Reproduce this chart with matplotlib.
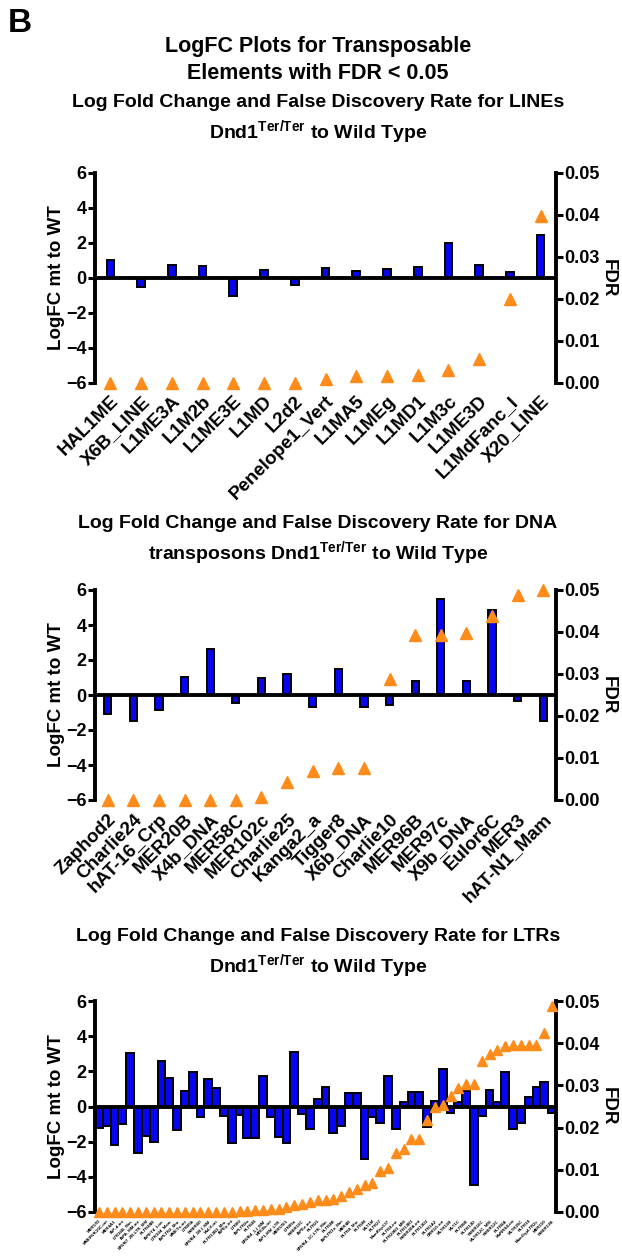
import numpy as np
import matplotlib
matplotlib.use("Agg")
import matplotlib.pyplot as plt

# 폰트 설정 (굵은 Arial 계열).
plt.rcParams['font.family'] = ['Liberation Sans', 'DejaVu Sans']
plt.rcParams['font.weight'] = 'bold'
plt.rcParams['mathtext.fontset'] = 'custom'
plt.rcParams['mathtext.rm'] = 'Liberation Sans:bold'
plt.rcParams['mathtext.it'] = 'Liberation Sans:bold'
plt.rcParams['mathtext.bf'] = 'Liberation Sans:bold'

# %%
# LINEs 데이터.
line_names = ['HAL1ME', 'X6B_LINE', 'L1ME3A', 'L1M2b', 'L1ME3E', 'L1MD', 'L2d2',
              'Penelope1_Vert', 'L1MA5', 'L1MEg', 'L1MD1', 'L1M3c', 'L1ME3D',
              'L1MdFanc_I', 'X20_LINE']
line_logfc = [1.05, -0.5, 0.72, 0.67, -1.02, 0.45, -0.38, 0.58, 0.38, 0.49, 0.6,
              2.0, 0.74, 0.36, 2.47]
line_fdr = [0, 0, 0, 0, 0, 0, 0, 0.0009, 0.0016, 0.0016, 0.002, 0.003, 0.0058,
            0.0200, 0.0397]

# DNA transposons 데이터.
dna_names = ['Zaphod2', 'Charlie24', 'hAT-16_Crp', 'MER20B', 'X4b_DNA', 'MER58C',
             'MER102c', 'Charlie25', 'Kanga2_a', 'Tigger8', 'X6b_DNA', 'Charlie10',
             'MER96B', 'MER97c', 'X9b_DNA', 'Eulor6C', 'MER3', 'hAT-N1_Mam']
dna_logfc = [-1.08, -1.46, -0.83, 1.04, 2.63, -0.45, 0.97, 1.2, -0.7, 1.48, -0.66,
             -0.55, 0.81, 5.48, 0.78, 4.88, -0.32, -1.5]
dna_fdr = [0, 0, 0, 0, 0, 0, 0.0008, 0.0042, 0.0069, 0.0076, 0.0076, 0.0289,
           0.0392, 0.0394, 0.0398, 0.0437, 0.0489, 0.0499]

# LTRs 데이터.
ltr_names = ['MER57D', 'MMERVK10C-int', 'MER4A1', 'IAP-d-int', 'LTR16B_Mm',
             'IAPA_MM-int', 'ERVB7_2B-LTR_MM', 'RLTR44B', 'IAPEY4_I-int',
             'LTR104_Mam', 'IAPLTR2_Mm', 'MMETn-int', 'LTR85b', 'RMER6D',
             'ERVB4_1B-I_MM', 'MuLV-int', 'RLTR13B2_Mm', 'IAPEy-int', 'LTR80',
             'IAPLTR2a', 'RLTR45', 'ERVB4_1-I_MM', 'MTE2b-int', 'IAP1-MM_LTR',
             'MER57E1', 'LTR85a', 'RMER19C', 'IAPEz-int', 'RLTR21',
             'ERVB4_1C-LTR_Mm', 'RLTR4B', 'IAPLTR1a_Mm', 'MER4B', 'RLTR4_Mm',
             'RLTR46', 'MLT1M', 'RLTR27', 'MamRep137', 'RLTR4-int', 'RLTR20B3_MM',
             'RLTR13B1', 'RMER20A-int', 'RLTR13D2', 'RLTR1A2', 'ORR1G-int',
             'MLTR11B', 'MLT1C', 'RLTR6B', 'RLTR13D', 'RMER16C', 'MLTR12C_MM',
             'RMER12C', 'RLTR8A', 'MuRRS4-int', 'MLTR25C', 'RLTR18',
             'MamGypLTR2c', 'MER110', 'RMER13B']
ltr_logfc = [-1.2, -1.1, -2.17, -0.97, 3.05, -2.65, -1.7, -2.0, 2.6, 1.62,
             -1.32, 0.88, 1.97, -0.58, 1.58, 1.03, -0.53, -2.1, -0.47, -1.78,
             -1.78, 1.73, -0.62, -1.75, -2.1, 3.12, -0.45, -1.3, 0.45, 1.13,
             -1.5, -1.1, 0.79, 0.79, -3.0, -0.59, -0.94, 1.74, -1.3, 0.27,
             0.82, 0.8, -1.16, 0.32, 2.13, -0.38, 0.27, 0.9, -4.45, -0.55,
             0.95, 0.27, 1.95, -1.3, -0.93, 0.55, 1.09, 1.39, -0.38]
ltr_fdr = [0, 0, 0, 0, 0, 0, 0, 0, 0, 0,
           0, 0, 0, 0, 0.0001, 0.0001, 0.0001, 0.0001, 0.0002, 0.0002,
           0.0004, 0.0004, 0.0006, 0.0008, 0.0013, 0.0017, 0.002, 0.0024, 0.0028, 0.0028,
           0.0031, 0.0037, 0.0047, 0.0055, 0.0065, 0.0069, 0.0098, 0.0104, 0.014, 0.015,
           0.0174, 0.0174, 0.0219, 0.0249, 0.0254, 0.0274, 0.0294, 0.0304, 0.0304, 0.0357,
           0.0374, 0.0385, 0.0393, 0.0396, 0.0396, 0.0396, 0.0396, 0.0424, 0.0488]

# %%
W, H = 622, 1258
BLUE = '#0505f0'
ORANGE = '#ff8c1a'

fig = plt.figure(figsize=(W / 100, H / 100), dpi=100)


def px_axes(left, top, right, bottom):
    # 픽셀 좌표로 축 위치 지정.
    return fig.add_axes([left / W, 1 - bottom / H, (right - left) / W, (bottom - top) / H])


def draw_panel(top, bottom, names, logfc, fdr, bar_w, label_size, ms, pad):
    ax = px_axes(95, top, 556, bottom)
    x = np.arange(len(names))
    ax.bar(x, logfc, width=bar_w, color=BLUE, edgecolor='black', linewidth=1.4, zorder=2)
    ax.axhline(0, color='black', lw=2.8, zorder=3)
    ax.set_xlim(-0.5, len(names) - 0.5)
    ax.set_ylim(-6, 6)
    ax.set_yticks(range(-6, 7, 2))
    ax.set_xticks(x)
    ax.set_xticklabels(names, rotation=45, ha='right', rotation_mode='anchor',
                       fontsize=label_size, fontweight='bold')
    ax.tick_params(axis='x', length=0, pad=pad)
    ax.tick_params(axis='y', width=2.2, length=5, labelsize=13, pad=1)
    for s in ['top', 'bottom', 'right']:
        ax.spines[s].set_visible(False)
    ax.spines['left'].set_linewidth(2.8)
    ax.set_ylabel('LogFC mt to WT', fontsize=13.5, fontweight='bold', labelpad=1)

    ax2 = ax.twinx()
    ax2.plot(x, fdr, '^', color=ORANGE, ms=ms, clip_on=False, zorder=4)
    ax2.set_ylim(0, 0.05)
    ax2.set_yticks(np.arange(0, 0.051, 0.01))
    ax2.set_yticklabels(['%.2f' % v for v in np.arange(0, 0.051, 0.01)])
    ax2.tick_params(axis='y', width=2.2, length=5, labelsize=13, pad=1)
    for s in ['top', 'bottom', 'left']:
        ax2.spines[s].set_visible(False)
    ax2.spines['right'].set_linewidth(2.8)
    ax2.set_ylabel('FDR', fontsize=13.5, fontweight='bold', rotation=270, labelpad=12)
    return ax


# 제목.
fig.text(8 / W, 1 - 24 / H, 'B', fontsize=24, fontweight='bold', va='center', ha='left')
fig.text(318 / W, 1 - 60 / H, 'LogFC Plots for Transposable\nElements with FDR < 0.05',
         fontsize=15.5, fontweight='bold', ha='center', va='center', linespacing=1.4)
fig.text(318 / W, 1 - 120 / H,
         'Log Fold Change and False Discovery Rate for LINEs\nDnd1$^{\\mathrm{Ter/Ter}}$ to Wild Type',
         fontsize=14, fontweight='bold', ha='center', va='center', linespacing=1.35)
fig.text(318 / W, 1 - 541 / H,
         'Log Fold Change and False Discovery Rate for DNA\ntransposons Dnd1$^{\\mathrm{Ter/Ter}}$ to Wild Type',
         fontsize=14, fontweight='bold', ha='center', va='center', linespacing=1.4)
fig.text(318 / W, 1 - 954 / H,
         'Log Fold Change and False Discovery Rate for LTRs\nDnd1$^{\\mathrm{Ter/Ter}}$ to Wild Type',
         fontsize=14, fontweight='bold', ha='center', va='center', linespacing=1.35)

draw_panel(173, 383, line_names, line_logfc, line_fdr, 0.25, 13.5, 8.5, 7)
draw_panel(590, 800, dna_names, dna_logfc, dna_fdr, 0.28, 13.5, 8.5, 8)
draw_panel(1001, 1212, ltr_names, ltr_logfc, ltr_fdr, 1.0, 3.2, 7, 5)

fig.savefig('out.png', dpi=100)
